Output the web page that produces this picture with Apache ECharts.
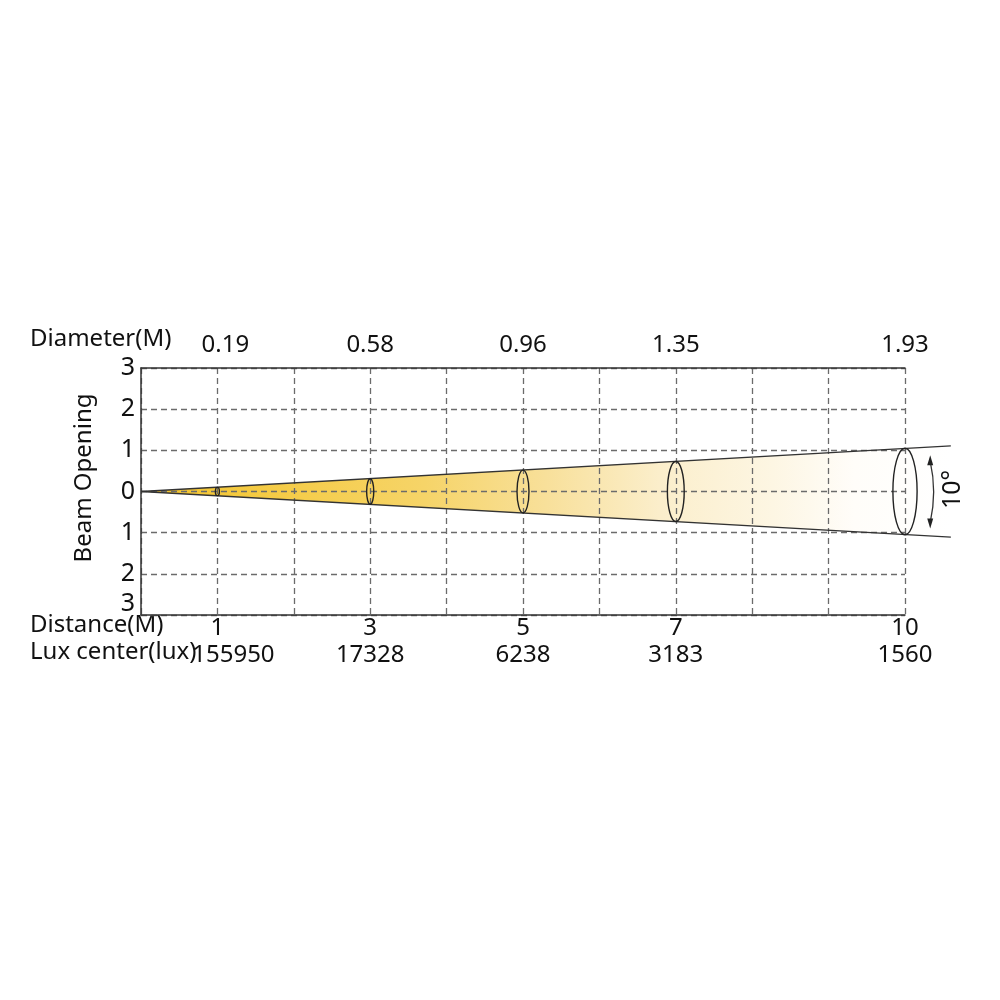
<!DOCTYPE html>
<html>
<head>
<meta charset="utf-8">
<script src="https://cdn.jsdelivr.net/npm/echarts@6/dist/echarts.min.js"></script>
<style>
  html, body { margin: 0; padding: 0; background: #fff; }
  #chart { width: 1000px; height: 1000px; }
</style>
</head>
<body>
<div id="chart"></div>
<script>
// chart values
var distances = [1, 3, 5, 7, 10];
var diameters = ['0.19', '0.58', '0.96', '1.35', '1.93'];
var luxCenter = ['155950', '17328', '6238', '3183', '1560'];
var beamHalf = [0.1, 0.31, 0.52, 0.73, 1.05];      // half opening at each distance
var beamEdge = [[0, 0], [10.6, 1.11], [10.6, -1.11]]; // beam cone corners
var angleLabel = '10°';
var arrowSpan = [0.88, -0.9];

var FONT = 'Noto Sans';
var FS = 24;
var dashStyle = { type: [6, 4], color: '#6b6b6b', width: 1.3 };
var solidStyle = { color: '#333', width: 1.5 };

var chart = echarts.init(document.getElementById('chart'));

function labelAt(list, pad) {
    return function (v) {
        var i = distances.indexOf(v);
        if (i < 0) return '';
        if (pad && i === 0) return '{p|' + list[i] + '}';
        return list[i];
    };
}

var option = {
    backgroundColor: '#fff',
    animation: false,
    grid: { left: 141, right: 95, top: 368, bottom: 385 },
    graphic: [
        { type: 'text', left: 30, top: 327, style: { text: 'Diameter(M)', font: FS + 'px "' + FONT + '"', fill: '#111' } },
        { type: 'text', left: 30, top: 613, style: { text: 'Distance(M)', font: FS + 'px "' + FONT + '"', fill: '#111' } },
        { type: 'text', left: 30, top: 640, style: { text: 'Lux center(lux)', font: FS + 'px "' + FONT + '"', fill: '#111' } },
        {
            type: 'text', x: 84, y: 478, rotation: Math.PI / 2,
            style: { text: 'Beam Opening', font: FS + 'px "' + FONT + '"', fill: '#111', align: 'center', verticalAlign: 'middle' }
        }
    ],
    xAxis: [
        {
            type: 'value', min: 0, max: 10, interval: 1, position: 'bottom', z: 3,
            axisLine: { show: true, onZero: false, lineStyle: solidStyle },
            axisTick: { show: false },
            splitLine: { show: true, lineStyle: dashStyle },
            axisLabel: {
                margin: 1, fontSize: FS, fontFamily: FONT, color: '#111',
                formatter: function (v) { return distances.indexOf(v) >= 0 ? String(v) : ''; }
            }
        },
        {
            type: 'value', min: 0, max: 10, interval: 1, position: 'bottom', offset: 27,
            axisLine: { show: false, onZero: false }, axisTick: { show: false }, splitLine: { show: false },
            axisLabel: {
                margin: 1, fontSize: FS, fontFamily: FONT, color: '#111',
                formatter: labelAt(luxCenter, true),
                rich: { p: { fontSize: FS, fontFamily: FONT, color: '#111', padding: [0, 0, 0, 32] } }
            }
        },
        {
            type: 'value', min: 0, max: 10, interval: 1, position: 'top', z: 3,
            axisLine: { show: true, onZero: false, lineStyle: solidStyle },
            axisTick: { show: false }, splitLine: { show: false },
            axisLabel: {
                margin: 11, fontSize: FS, fontFamily: FONT, color: '#111',
                formatter: labelAt(diameters, true),
                rich: { p: { fontSize: FS, fontFamily: FONT, color: '#111', padding: [0, 0, 0, 16] } }
            }
        }
    ],
    yAxis: {
        type: 'value', min: -3, max: 3, interval: 1, z: 3,
        axisLine: { show: true, onZero: false, lineStyle: solidStyle },
        axisTick: { show: false },
        splitLine: { show: true, lineStyle: dashStyle },
        axisLabel: {
            margin: 6, fontSize: 25, fontFamily: FONT, color: '#111',
            formatter: function (v) {
                if (v === -3) return '{b|3}';
                return String(Math.abs(v));
            },
            rich: { b: { fontSize: 25, fontFamily: FONT, color: '#111', padding: [0, 0, 22, 0] } }
        }
    },
    series: [
        {
            // beam fill, under the grid lines
            type: 'custom', z: 2, silent: true, clip: false,
            data: [0],
            renderItem: function (params, api) {
                var pts = beamEdge.map(function (p) { return api.coord(p); });
                return {
                    type: 'polygon',
                    shape: { points: pts },
                    style: {
                        fill: new echarts.graphic.LinearGradient(0, 0, 1, 0, [
                            { offset: 0, color: '#f3c42c' },
                            { offset: 0.2, color: '#f5cd4c' },
                            { offset: 0.35, color: '#f6d468' },
                            { offset: 0.5, color: '#f8e09a' },
                            { offset: 0.64, color: '#fbeecb' },
                            { offset: 0.78, color: '#fdf6e3' },
                            { offset: 0.88, color: '#fffdf9' },
                            { offset: 1, color: '#ffffff' }
                        ]),
                        stroke: null
                    }
                };
            }
        },
        {
            // beam edges, arrow and angle text
            type: 'custom', z: 4, silent: true, clip: false,
            data: [0],
            renderItem: function (params, api) {
                var o = api.coord(beamEdge[0]);
                var a = api.coord(beamEdge[1]);
                var b = api.coord(beamEdge[2]);
                var t = api.coord([10.33, arrowSpan[0]]);
                var d = api.coord([10.33, arrowSpan[1]]);
                var c = api.coord([10.42, 0]);
                var lbl = api.coord([10.63, 0.05]);
                var lineSt = { stroke: '#333', lineWidth: 1.3, fill: null };
                return {
                    type: 'group',
                    children: [
                        { type: 'line', shape: { x1: o[0], y1: o[1], x2: a[0], y2: a[1] }, style: lineSt },
                        { type: 'line', shape: { x1: o[0], y1: o[1], x2: b[0], y2: b[1] }, style: lineSt },
                        {
                            type: 'bezierCurve',
                            shape: { x1: t[0], y1: t[1] + 6, cpx1: c[0], cpy1: c[1], x2: d[0], y2: d[1] - 6 },
                            style: lineSt
                        },
                        {
                            type: 'polygon',
                            shape: { points: [[t[0], t[1]], [t[0] - 3, t[1] + 10], [t[0] + 3, t[1] + 10]] },
                            style: { fill: '#222' }
                        },
                        {
                            type: 'polygon',
                            shape: { points: [[d[0], d[1]], [d[0] - 3, d[1] - 10], [d[0] + 3, d[1] - 10]] },
                            style: { fill: '#222' }
                        },
                        {
                            type: 'text', x: lbl[0], y: lbl[1], rotation: Math.PI / 2,
                            style: { text: angleLabel, font: '25px "' + FONT + '"', fill: '#111', align: 'center', verticalAlign: 'middle' }
                        }
                    ]
                };
            }
        },
        {
            // beam cross sections
            type: 'custom', z: 5, silent: true, clip: false,
            data: distances.map(function (dd, i) { return [dd, beamHalf[i]]; }),
            renderItem: function (params, api) {
                var ctr = api.coord([api.value(0), 0]);
                var top = api.coord([api.value(0), api.value(1)]);
                var ry = ctr[1] - top[1];
                var rx = Math.max(ry * 0.28, 2);
                var cx = ctr[0], cy = ctr[1];
                var p = 'M' + (cx - rx) + ' ' + cy +
                    ' A' + rx + ' ' + ry + ' 0 1 0 ' + (cx + rx) + ' ' + cy +
                    ' A' + rx + ' ' + ry + ' 0 1 0 ' + (cx - rx) + ' ' + cy + ' Z';
                return {
                    type: 'path',
                    shape: { pathData: p },
                    style: { stroke: '#222', lineWidth: 1.4, fill: null }
                };
            }
        }
    ]
};

chart.setOption(option);
</script>
</body>
</html>
